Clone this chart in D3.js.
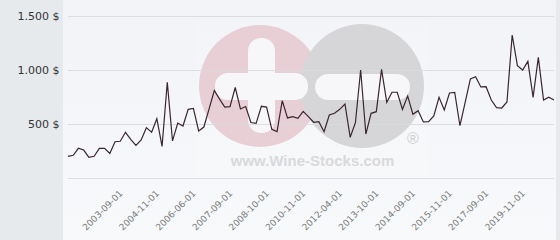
<!DOCTYPE html>
<html>
<head>
<meta charset="utf-8">
<script src="https://cdn.jsdelivr.net/npm/d3@7"></script>
<style>
  body { margin: 0; background: #f4f6f9; }
  svg { display: block; }
</style>
</head>
<body>
<div id="chart"></div>
<script>
// *********************************DATA****************************************
// Price per observation (USD), one point per category
var prices = [201, 210, 275, 259, 191, 201, 275, 275, 228, 336,
              340, 423, 358, 302, 352, 466, 423, 549, 293, 886,
              343, 509, 481, 636, 645, 436, 472, 640, 810, 730,
              657, 660, 838, 639, 662, 514, 506, 664, 657, 451,
              429, 716, 556, 568, 553, 617, 568, 516, 521, 429,
              583, 599, 636, 685, 377, 512, 1000, 407, 599, 614,
              1006, 701, 794, 794, 636, 759, 590, 623, 519, 521,
              575, 747, 630, 787, 793, 484, 700, 917, 938, 843,
              845, 722, 651, 648, 704, 1324, 1040, 1000, 1080, 747,
              1117, 722, 748, 722];

// Category labels shown on the x-axis (every 7th point, starting at point 10)
var xTickLabels = ["2003-09-01", "2004-11-01", "2006-06-01", "2007-09-01",
                   "2008-10-01", "2010-11-01", "2012-04-01", "2013-10-01",
                   "2014-09-01", "2015-11-01", "2017-09-01", "2019-11-01"];
var firstLabelIndex = 10,
    labelStep = 7;

// Y-axis ticks
var yTicks = [500, 1000, 1500];

// **************************CANVAS SET UP**************************************
var svgWidth = 560,
    svgHeight = 240;

var plot = {left: 68, right: 554, top: 16, bottom: 178};

var svg = d3.select("#chart")
  .append("svg")
    .attr("width", svgWidth)
    .attr("height", svgHeight);

// Background gradient of the plot area
var grad = svg.append("defs").append("linearGradient")
  .attr("id", "bg")
  .attr("x1", 0).attr("y1", 0).attr("x2", 0).attr("y2", 1);
grad.append("stop").attr("offset", "0%").attr("stop-color", "#f1f3f7");
grad.append("stop").attr("offset", "100%").attr("stop-color", "#f8f9fb");

svg.append("rect")
  .attr("width", svgWidth)
  .attr("height", svgHeight)
  .attr("fill", "url(#bg)");

// Left panel behind the y labels, and the thin strip on the right
svg.append("rect")
  .attr("width", 63)
  .attr("height", svgHeight)
  .attr("fill", "#e6eaed");
svg.append("rect")
  .attr("x", 556)
  .attr("width", 4)
  .attr("height", svgHeight)
  .attr("fill", "#e6eaed");

// *******************************SCALES****************************************
var xScale = d3.scaleLinear()
  .domain([0, prices.length - 1])
  .range([plot.left, plot.right]);

var yScale = d3.scaleLinear()
  .domain([0, 1500])
  .range([plot.bottom, plot.top]);

// *******************************WATERMARK*************************************
var mark = svg.append("g").attr("class", "watermark");

mark.append("rect")
  .attr("x", 197).attr("y", 22)
  .attr("width", 230).attr("height", 154)
  .attr("fill", "#ffffff")
  .attr("opacity", 0.14);

mark.append("circle")
  .attr("cx", 260).attr("cy", 86).attr("r", 61)
  .attr("fill", "#e8cfd6");
mark.append("circle")
  .attr("cx", 362).attr("cy", 86).attr("r", 62)
  .attr("fill", "#d6d6d8");

// "+" in the pink circle
mark.append("rect")
  .attr("x", 248).attr("y", 38)
  .attr("width", 27).attr("height", 95)
  .attr("rx", 13)
  .attr("fill", "#f7f7f9");
mark.append("rect")
  .attr("x", 215).attr("y", 73)
  .attr("width", 93).attr("height", 27)
  .attr("rx", 13)
  .attr("fill", "#f7f7f9");
// "-" in the grey circle
mark.append("rect")
  .attr("x", 315).attr("y", 74)
  .attr("width", 95).attr("height", 26)
  .attr("rx", 13)
  .attr("fill", "#f7f7f9");

mark.append("text")
  .attr("x", 413).attr("y", 144)
  .attr("text-anchor", "middle")
  .attr("font-family", "Liberation Sans, Arial, sans-serif")
  .attr("font-size", "16px")
  .attr("fill", "#cfcfd2")
  .text("®");

mark.append("text")
  .attr("x", 312.5).attr("y", 166)
  .attr("text-anchor", "middle")
  .attr("font-family", "Liberation Sans, Arial, sans-serif")
  .attr("font-weight", "bold")
  .attr("font-size", "15px")
  .attr("fill", "#d9d9dc")
  .text("www.Wine-Stocks.com");

// *********************************AXES****************************************
// Horizontal grid lines (including the baseline at 0)
svg.append("g")
  .selectAll("line")
  .data([0].concat(yTicks))
  .enter()
  .append("line")
    .attr("x1", plot.left)
    .attr("x2", plot.right)
    .attr("y1", d => Math.round(yScale(d)) + 0.5)
    .attr("y2", d => Math.round(yScale(d)) + 0.5)
    .attr("stroke", "#d8dadd")
    .attr("stroke-opacity", 0.9);

// Y labels
svg.append("g")
  .selectAll("text")
  .data(yTicks)
  .enter()
  .append("text")
    .attr("x", 59.5)
    .attr("y", d => yScale(d))
    .attr("dy", "0.36em")
    .attr("text-anchor", "end")
    .attr("font-family", "DejaVu Sans, sans-serif")
    .attr("font-size", "11px")
    .attr("fill", "#333")
    .text(d => d3.format(",")(d).replace(/,/g, ".") + " $");

// X labels, rotated
svg.append("g")
  .selectAll("text")
  .data(xTickLabels)
  .enter()
  .append("text")
    .attr("transform", (d, i) =>
      `translate(${xScale(firstLabelIndex + i * labelStep) + 3}, ${plot.bottom + 16}) rotate(-45)`)
    .attr("text-anchor", "end")
    .attr("font-family", "DejaVu Sans, sans-serif")
    .attr("font-size", "9px")
    .attr("fill", "#7a7a7a")
    .text(d => d);

// *********************************LINE****************************************
var line = d3.line()
  .x((d, i) => xScale(i))
  .y(d => yScale(d));

svg.append("path")
  .datum(prices)
  .attr("d", line)
  .attr("fill", "none")
  .attr("stroke", "#3a2630")
  .attr("stroke-width", 1.2)
  .attr("stroke-linejoin", "miter");
</script>
</body>
</html>
